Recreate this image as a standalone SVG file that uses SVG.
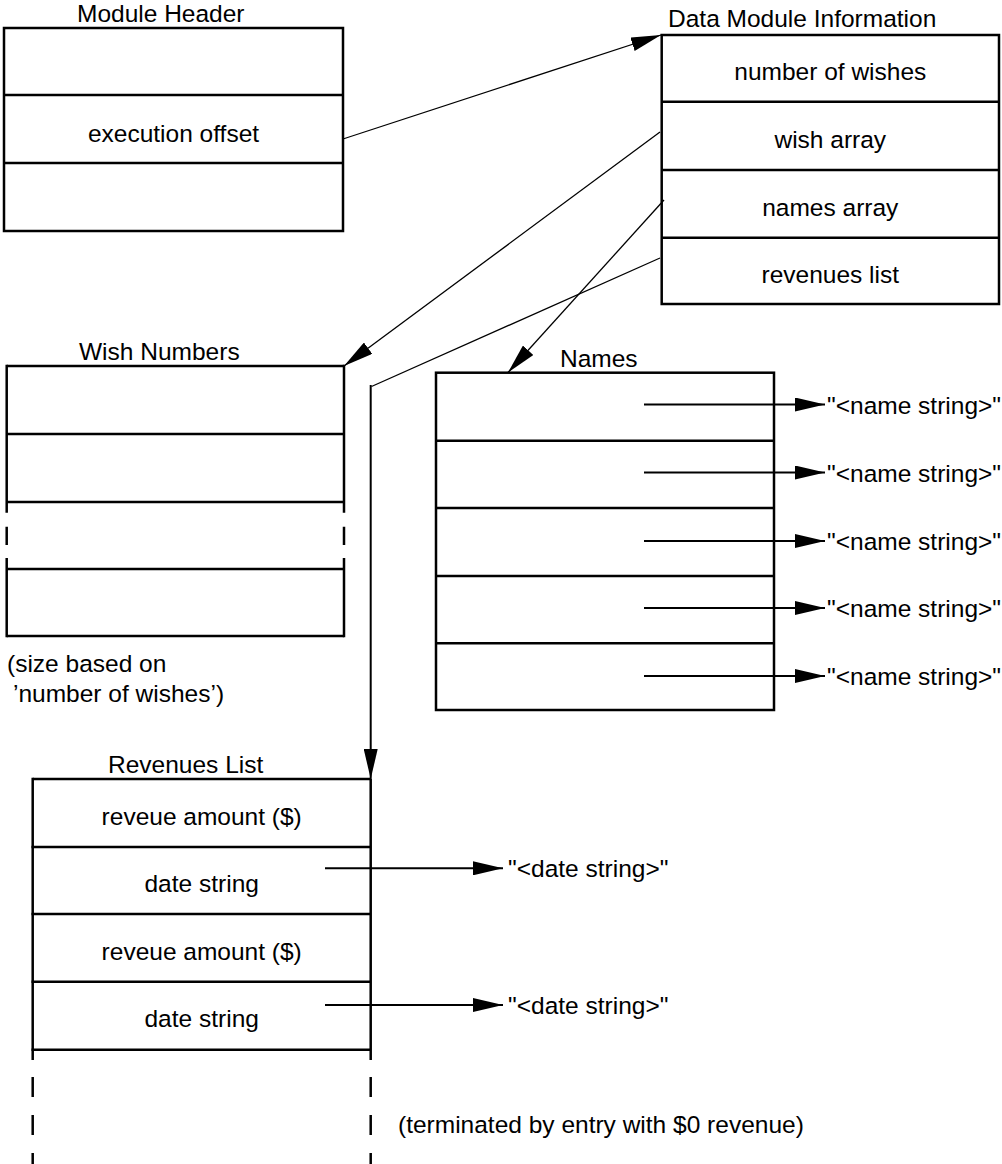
<svg xmlns="http://www.w3.org/2000/svg" width="1002" height="1164" viewBox="0 0 1002 1164">
<style>
text{font-family:"Liberation Sans",Arial,sans-serif;font-size:24.5px;fill:#000}
.c{text-anchor:middle}
.box{fill:none;stroke:#000;stroke-width:2.5}
.thin{fill:none;stroke:#000;stroke-width:1.3}
.h{fill:none;stroke:#000;stroke-width:2}
</style>
<defs>
<marker id="ah" markerUnits="userSpaceOnUse" viewBox="0 0 30 14" refX="30" refY="7" markerWidth="30" markerHeight="14" orient="auto">
<path d="M0,0 L30,7 L0,14 z" fill="#000"/>
</marker>
</defs>
<rect width="1002" height="1164" fill="#fff"/>

<g id="module-header">
<text x="77" y="22">Module Header</text>
<rect class="box" x="4" y="28" width="339" height="203"/>
<line class="box" x1="4" y1="95" x2="343" y2="95"/>
<line class="box" x1="4" y1="163" x2="343" y2="163"/>
<text class="c" x="173.5" y="141.5">execution offset</text>
</g>

<g id="data-module-information">
<text x="668" y="27">Data Module Information</text>
<rect class="box" x="661.7" y="35" width="337.3" height="269"/>
<line class="box" x1="661.7" y1="101.7" x2="999" y2="101.7"/>
<line class="box" x1="661.7" y1="170" x2="999" y2="170"/>
<line class="box" x1="661.7" y1="237.7" x2="999" y2="237.7"/>
<text class="c" x="830.3" y="80">number of wishes</text>
<text class="c" x="830.3" y="148">wish array</text>
<text class="c" x="830.3" y="215.5">names array</text>
<text class="c" x="830.3" y="283">revenues list</text>
</g>

<g id="wish-numbers">
<text x="79" y="360">Wish Numbers</text>
<line class="box" x1="6.7" y1="366" x2="344" y2="366"/>
<line class="box" x1="6.7" y1="434" x2="344" y2="434"/>
<line class="box" x1="6.7" y1="502" x2="344" y2="502"/>
<line class="box" x1="6.7" y1="569" x2="344" y2="569"/>
<line class="box" x1="6.7" y1="636" x2="344" y2="636"/>
<path class="box" d="M6.7,364.8 V512.7 M6.7,526.7 V545 M6.7,558 V637.2 M344,364.8 V512.7 M344,526.7 V545 M344,558 V637.2"/>
<text x="7" y="672">(size based on</text>
<text x="13" y="702">’number of wishes’)</text>
</g>

<g id="names">
<text x="560" y="366.5">Names</text>
<rect class="box" x="436" y="372.7" width="338" height="337.3"/>
<line class="box" x1="436" y1="440.7" x2="774" y2="440.7"/>
<line class="box" x1="436" y1="508" x2="774" y2="508"/>
<line class="box" x1="436" y1="576" x2="774" y2="576"/>
<line class="box" x1="436" y1="643.3" x2="774" y2="643.3"/>
<text x="827" y="413.5">"&lt;name string&gt;"</text>
<text x="827" y="481.5">"&lt;name string&gt;"</text>
<text x="827" y="550">"&lt;name string&gt;"</text>
<text x="827" y="617">"&lt;name string&gt;"</text>
<text x="827" y="685">"&lt;name string&gt;"</text>
</g>

<g id="revenues-list">
<text x="108" y="773">Revenues List</text>
<line class="box" x1="32.7" y1="779" x2="370.7" y2="779"/>
<line class="box" x1="31.5" y1="847" x2="370.7" y2="847"/>
<line class="box" x1="31.5" y1="914" x2="370.7" y2="914"/>
<line class="box" x1="31.5" y1="981.7" x2="370.7" y2="981.7"/>
<line class="box" x1="31.5" y1="1049.7" x2="370.7" y2="1049.7"/>
<path class="box" d="M32.7,777.8 V1060 M32.7,1077 V1097 M32.7,1115 V1135 M32.7,1153 V1164 M370.7,779 V1060 M370.7,1077 V1097 M370.7,1115 V1135 M370.7,1153 V1164"/>
<text class="c" x="201.7" y="825">reveue amount ($)</text>
<text class="c" x="201.7" y="892">date string</text>
<text class="c" x="201.7" y="960">reveue amount ($)</text>
<text class="c" x="201.7" y="1027">date string</text>
<text x="508" y="877">"&lt;date string&gt;"</text>
<text x="508" y="1014">"&lt;date string&gt;"</text>
<text x="398" y="1133">(terminated by entry with $0 revenue)</text>
</g>

<g id="connectors">
<line class="thin" x1="343" y1="139" x2="661" y2="35" marker-end="url(#ah)"/>
<line class="thin" x1="660" y1="132" x2="344" y2="366" marker-end="url(#ah)"/>
<line class="thin" x1="664" y1="200" x2="508" y2="372.5" marker-end="url(#ah)"/>
<polyline class="thin" points="660,258 371.5,386.5"/>
<line class="h" x1="370.7" y1="385" x2="370.7" y2="779" marker-end="url(#ah)"/>
<line class="h" x1="644" y1="404.5" x2="825" y2="404.5" marker-end="url(#ah)"/>
<line class="h" x1="644" y1="472.5" x2="825" y2="472.5" marker-end="url(#ah)"/>
<line class="h" x1="644" y1="541" x2="825" y2="541" marker-end="url(#ah)"/>
<line class="h" x1="644" y1="608" x2="825" y2="608" marker-end="url(#ah)"/>
<line class="h" x1="644" y1="676" x2="825" y2="676" marker-end="url(#ah)"/>
<line class="h" x1="325" y1="868.3" x2="503" y2="868.3" marker-end="url(#ah)"/>
<line class="h" x1="325" y1="1005" x2="503" y2="1005" marker-end="url(#ah)"/>
</g>
</svg>
